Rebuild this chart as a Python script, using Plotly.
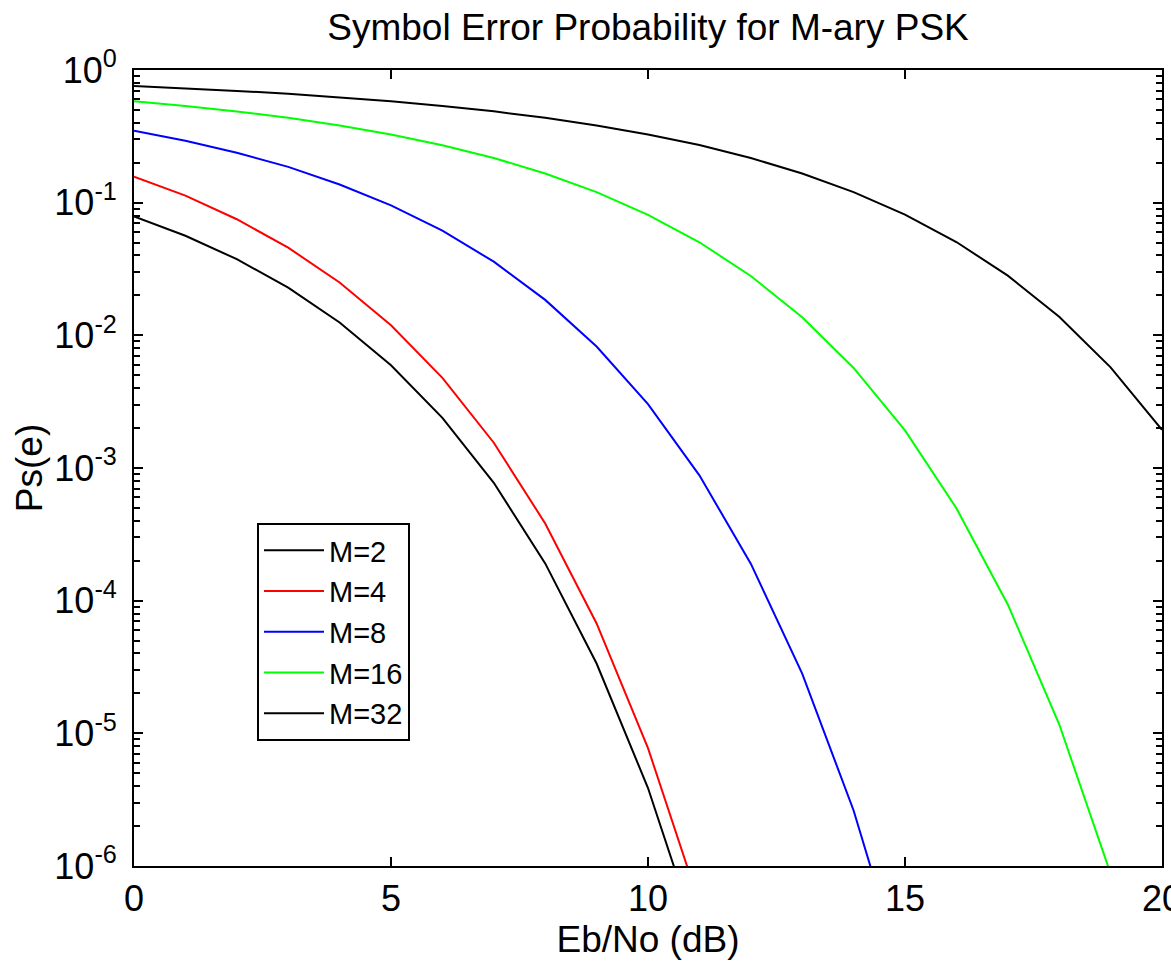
import plotly.graph_objects as go

ebno_db = list(range(0, 21))

ps_m2 = [0.0786, 0.0563, 0.0375, 0.0229, 0.0125, 0.00595, 0.00239, 0.000773,
         0.000191, 3.36e-5, 3.87e-6, 2.61e-7]
ps_m4 = [0.157, 0.113, 0.0750, 0.0458, 0.0250, 0.0119, 0.00478, 0.00155,
         0.000382, 6.73e-5, 7.74e-6, 5.23e-7]
ps_m8 = [0.349, 0.293, 0.238, 0.186, 0.137, 0.0955, 0.0615, 0.0359, 0.0185,
         0.00824, 0.00303, 0.000881, 0.000190, 2.82e-5, 2.62e-6, 1.36e-7]
ps_m16 = [0.581, 0.536, 0.487, 0.436, 0.382, 0.326, 0.271, 0.217, 0.166, 0.120,
          0.0810, 0.0503, 0.0280, 0.0137, 0.00568, 0.00192, 0.000498, 9.37e-5,
          1.17e-5, 8.75e-7, 3.4e-8]
ps_m32 = [0.757, 0.728, 0.696, 0.662, 0.623, 0.582, 0.536, 0.488, 0.436, 0.382,
          0.327, 0.272, 0.217, 0.166, 0.120, 0.0813, 0.0505, 0.0282, 0.0138,
          0.00574, 0.00194]

series_names = ["M=2", "M=4", "M=8", "M=16", "M=32"]
series_values = [ps_m2, ps_m4, ps_m8, ps_m16, ps_m32]
series_colors = ["#000000", "#ff0000", "#0000ff", "#00ff00", "#000000"]

x_ticks = [0, 5, 10, 15, 20]
y_exponents = [-6, -5, -4, -3, -2, -1, 0]

FONT = "Arial, Liberation Sans, Helvetica, sans-serif"

fig = go.Figure()
for name, vals, col in zip(series_names, series_values, series_colors):
    fig.add_trace(go.Scatter(
        x=ebno_db[:len(vals)], y=vals, mode="lines", name=name,
        line=dict(color=col, width=2),
    ))

y_tickvals = [10.0 ** e for e in y_exponents]
y_ticktext = ["10<sup>%d</sup>" % e for e in y_exponents]
minor_vals = [m * 10.0 ** e for e in y_exponents[:-1] for m in range(2, 10)]

fig.update_layout(
    width=1171, height=962,
    margin=dict(l=134, r=9, t=70, b=96, pad=0),
    paper_bgcolor="white", plot_bgcolor="white",
    font=dict(family=FONT, color="black", size=36),
    title=dict(text="Symbol Error Probability for M-ary PSK",
               x=0.5, xref="paper", xanchor="center",
               y=1 - 27 / 962, yref="container", yanchor="middle",
               font=dict(size=37, family=FONT, color="black")),
    showlegend=True,
    legend=dict(x=(257 - 134) / 1028, y=(866 - 523) / 796,
                xanchor="left", yanchor="top",
                bgcolor="white", bordercolor="black", borderwidth=2,
                font=dict(size=29, family=FONT, color="black"),
                itemwidth=60, tracegroupgap=0),
    xaxis=dict(
        range=[0, 20], tickmode="array", tickvals=x_ticks,
        ticks="inside", ticklen=9, tickwidth=2, tickcolor="black",
        showline=True, linecolor="black", linewidth=2, mirror="ticks",
        showgrid=False, zeroline=False, automargin=False,
        ticklabeloverflow="allow",
        tickfont=dict(size=36, family=FONT, color="black"),
        title=dict(text="Eb/No (dB)", standoff=3,
                   font=dict(size=37, family=FONT, color="black")),
    ),
    yaxis=dict(
        type="log", range=[-6, 0], tickmode="array",
        tickvals=y_tickvals, ticktext=y_ticktext,
        ticks="inside", ticklen=9, tickwidth=2, tickcolor="black",
        showline=True, linecolor="black", linewidth=2, mirror="ticks",
        showgrid=False, zeroline=False, automargin=False,
        ticklabelstandoff=8,
        tickfont=dict(size=36, family=FONT, color="black"),
        title=dict(text="Ps(e)", standoff=0,
                   font=dict(size=37, family=FONT, color="black")),
        minor=dict(tickmode="array", tickvals=minor_vals, ticks="inside",
                   ticklen=6, tickwidth=2, tickcolor="black", showgrid=False),
    ),
)

fig.write_html("out.html", config={"displayModeBar": False},
               post_script="document.body.style.margin='0';")
